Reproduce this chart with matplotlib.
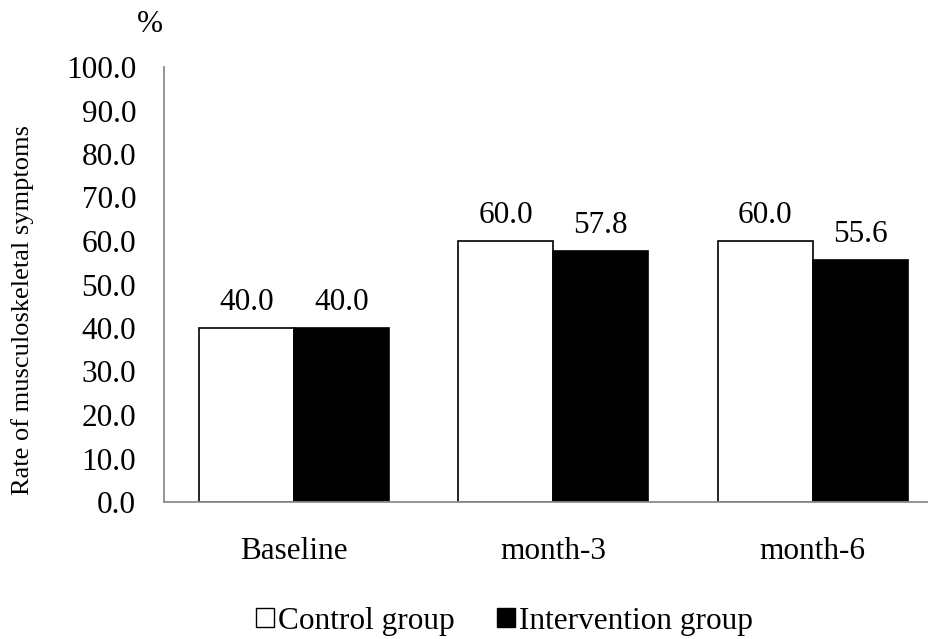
import matplotlib
matplotlib.use("Agg")
import matplotlib.pyplot as plt
import numpy as np
from matplotlib.patches import Patch

plt.rcParams["font.family"] = ["Liberation Serif", "DejaVu Serif"]

categories = ["Baseline", "month-3", "month-6"]
control = [40.0, 60.0, 60.0]
intervention = [40.0, 57.8, 55.6]
series_names = ["Control group", "Intervention group"]
y_ticks = [0, 10, 20, 30, 40, 50, 60, 70, 80, 90, 100]

FS = 22.5
W, H = 929, 639
fig = plt.figure(figsize=(W / 100, H / 100), dpi=100)
ax = fig.add_axes([164 / W, 1 - 502 / H, 1 - 164 / W, (502 - 67) / H])

x = np.arange(len(categories))
bw = 0.366
ax.bar(x - bw / 2, control, bw, color="white", edgecolor="black", linewidth=1.2)
ax.bar(x + bw / 2, intervention, bw, color="black", edgecolor="black", linewidth=1.2)

# value labels, baseline ~18 px above the bar top
for xi, v in zip(x - bw / 2, control):
    ax.text(xi, v + 4.1, f"{v:.1f}", ha="center", va="baseline", fontsize=FS)
for xi, v in zip(x + bw / 2, intervention):
    ax.text(xi, v + 4.1, f"{v:.1f}", ha="center", va="baseline", fontsize=FS)

ax.set_xlim(-0.5, -0.5 + (929 - 164) / 259.5)
ax.set_ylim(0, 100)
ax.set_yticks(y_ticks)
ax.set_yticklabels([f"{t:.1f}" for t in y_ticks], fontsize=FS)
ax.set_xticks(x)
ax.set_xticklabels(categories, fontsize=FS)
ax.tick_params(axis="x", length=0, pad=25)
ax.tick_params(axis="y", length=0, pad=20)

for s in ["top", "right"]:
    ax.spines[s].set_visible(False)
for s in ["left", "bottom"]:
    ax.spines[s].set_color("#8c8c8c")
    ax.spines[s].set_linewidth(1.3)

fig.text(23 / W, 1 - 310 / H, "Rate of musculoskeletal symptoms", rotation=90,
         ha="center", va="center", fontsize=19)
fig.text(150 / W, 1 - 24 / H, "%", ha="center", va="center", fontsize=FS)

handles = [Patch(facecolor="white", edgecolor="black", linewidth=1.0),
           Patch(facecolor="black", edgecolor="black")]
fig.legend(handles, series_names, loc="center", bbox_to_anchor=(504.5 / W, 1 - 621 / H),
           ncol=2, frameon=False, fontsize=FS, handlelength=0.57, handleheight=0.57,
           handletextpad=0.13, columnspacing=1.34, borderpad=0.2)

fig.savefig("out.png", dpi=100)
